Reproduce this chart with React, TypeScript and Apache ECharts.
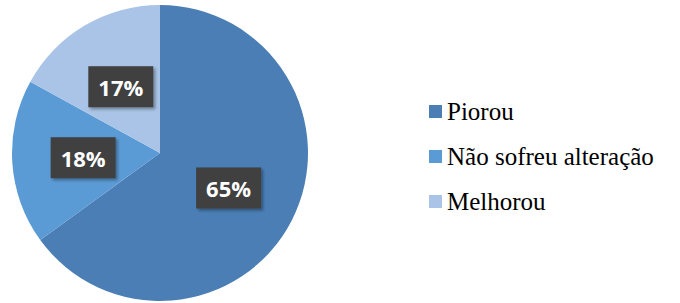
import React, { useEffect, useRef } from "react";
import * as echarts from "echarts";

const categories = ["Piorou", "Não sofreu alteração", "Melhorou"];
const values = [65, 18, 17];
const colors = ["#4a7eb5", "#5b9bd5", "#a9c4e6"];

export default function App() {
  const ref = useRef<HTMLDivElement>(null);
  useEffect(() => {
    if (!ref.current) return;
    const chart = echarts.init(ref.current, undefined, { renderer: "svg" });
    chart.setOption({
      animation: false,
      color: colors,
      textStyle: { fontFamily: "Times New Roman" },
      legend: {
        orient: "vertical",
        left: 424,
        top: 94,
        itemWidth: 13,
        itemHeight: 13,
        itemGap: 20,
        icon: "rect",
        data: categories,
        textStyle: {
          fontFamily: "Times New Roman",
          fontSize: 25,
          color: "#000",
        },
      },
      series: [
        {
          type: "pie",
          center: [160, 153],
          radius: 148,
          startAngle: 90,
          clockwise: true,
          data: categories.map((c, i) => ({ name: c, value: values[i] })),
          label: {
            show: true,
            position: "inside",
            formatter: "{p|{c}%}",
            backgroundColor: "#3f3f3f",
            padding: [10, 10, 9, 10],
            shadowColor: "rgba(0,0,0,0.35)",
            shadowBlur: 3,
            shadowOffsetX: 2,
            shadowOffsetY: 2,
            rich: {
              p: {
                fontFamily: "Open Sans",
                fontWeight: "bold",
                fontSize: 22,
                color: "#fff",
              },
            },
          },
          labelLine: { show: false },
          itemStyle: { borderWidth: 0 },
          emphasis: { disabled: true },
        },
      ],
    });
    return () => chart.dispose();
  }, []);
  return <div ref={ref} style={{ width: 680, height: 303, position: "absolute", left: 0, top: 0 }} />;
}
